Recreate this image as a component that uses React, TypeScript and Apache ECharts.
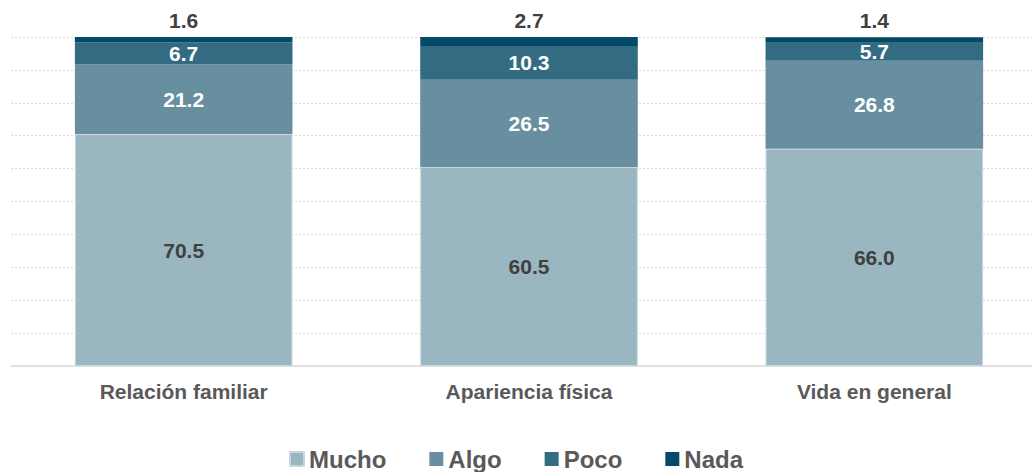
import React, { useEffect, useRef } from "react";
import * as echarts from "echarts";

const categories = ["Relación familiar", "Apariencia física", "Vida en general"];
const seriesNames = ["Mucho", "Algo", "Poco", "Nada"];
const mucho = [70.5, 60.5, 66.0];
const algo = [21.2, 26.5, 26.8];
const poco = [6.7, 10.3, 5.7];
const nada = [1.6, 2.7, 1.4];
const colors = ["#9AB7C1", "#678F9F", "#336B83", "#034A66"];
const FONT = "'Liberation Sans', Arial, sans-serif";

export default function App() {
  const ref = useRef<HTMLDivElement>(null);
  useEffect(() => {
    document.body.style.margin = "0";
    if (!ref.current) return;
    const chart = echarts.init(ref.current, null, { renderer: "svg" });
    const datasets = [mucho, algo, poco, nada];
    const labelColors = ["#404040", "#FFFFFF", "#FFFFFF", "#404040"];
    chart.setOption({
      animation: false,
      textStyle: { fontFamily: FONT },
      grid: { left: 11, right: -15, top: 37, bottom: 106, containLabel: false, outerBoundsMode: "none" },
      legend: {
        data: seriesNames,
        top: 447,
        padding: 0,
        left: "center",
        itemWidth: 14,
        itemHeight: 14,
        itemGap: 43,
        icon: "rect",
        textStyle: { fontSize: 24, fontWeight: "bold", color: "#595959", fontFamily: FONT },
      },
      xAxis: {
        type: "category",
        data: categories,
        axisLine: { lineStyle: { color: "#D9D9D9", width: 1.5 } },
        axisTick: { show: false },
        axisLabel: { fontSize: 21, fontWeight: "bold", color: "#595959", margin: 15, fontFamily: FONT },
      },
      yAxis: {
        type: "value",
        min: 0,
        max: 100,
        interval: 10,
        axisLabel: { show: false },
        axisLine: { show: false },
        axisTick: { show: false },
        splitLine: { lineStyle: { color: "#D9D9D9", type: [2, 2], width: 1 } },
      },
      series: seriesNames.map((name, i) => ({
        name,
        type: "bar",
        stack: "total",
        barWidth: "63%",
        data: datasets[i],
        itemStyle: { color: colors[i], borderColor: i === 0 ? "#C9D6DB" : colors[i], borderWidth: i === 0 ? 1 : 0 },
        label: {
          show: true,
          position: i === 3 ? "top" : "inside",
          distance: 6,
          color: labelColors[i],
          fontSize: 21,
          fontWeight: "bold",
          fontFamily: FONT,
          formatter: (p: any) => Number(p.value).toFixed(1),
        },
      })),
    });
    return () => chart.dispose();
  }, []);
  return <div ref={ref} style={{ width: 1032, height: 472 }} />;
}
